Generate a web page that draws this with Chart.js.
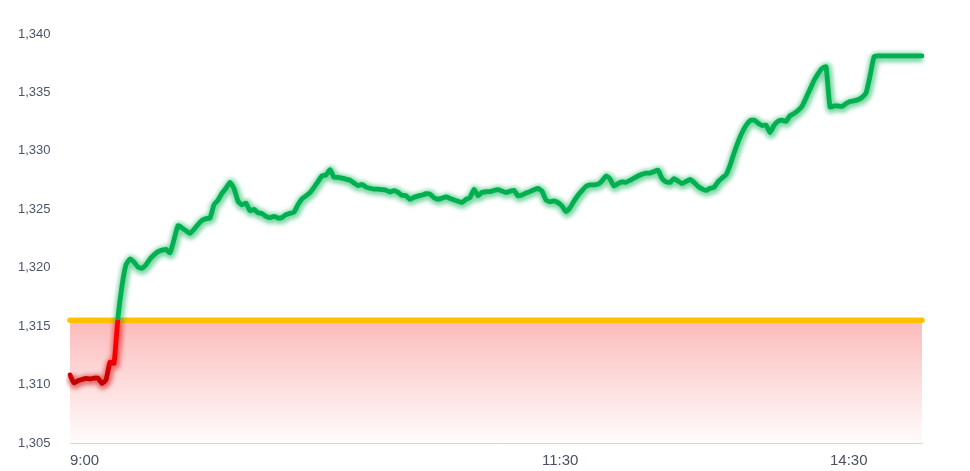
<!DOCTYPE html>
<html>
<head>
<meta charset="utf-8">
<script src="https://cdn.jsdelivr.net/npm/chart.js@4.4.1/dist/chart.umd.min.js"></script>
<style>
  html, body { margin: 0; padding: 0; background: #ffffff; }
  #wrap { width: 970px; height: 471px; }
</style>
</head>
<body>
<div id="wrap"><canvas id="c" width="970" height="471"></canvas></div>
<script>
// ---- data ----
const prices = [
  1310.82, 1310.15, 1310.32, 1310.43, 1310.53, 1310.48, 1310.55, 1310.55, 1310.10, 1310.40,
  1311.92, 1311.82, 1315.75, 1318.45, 1320.25, 1320.75, 1320.48, 1320.05, 1319.95, 1320.25,
  1320.75, 1321.10, 1321.38, 1321.50, 1321.57, 1321.28, 1322.40, 1323.60, 1323.40, 1323.17,
  1322.94, 1323.28, 1323.70, 1324.05, 1324.20, 1324.25, 1325.40, 1325.78, 1326.38, 1326.80,
  1327.30, 1326.78, 1325.70, 1325.38, 1325.53, 1324.88, 1325.00, 1324.70, 1324.63, 1324.40,
  1324.28, 1324.40, 1324.25, 1324.30, 1324.54, 1324.65, 1324.75, 1325.40, 1325.90, 1326.15,
  1326.42, 1326.88, 1327.37, 1327.86, 1327.93, 1328.40, 1327.74, 1327.74, 1327.67, 1327.58,
  1327.49, 1327.24, 1327.03, 1327.12, 1326.90, 1326.80, 1326.73, 1326.72, 1326.68, 1326.63,
  1326.48, 1326.60, 1326.45, 1326.20, 1326.16, 1325.85, 1326.03, 1326.13, 1326.22, 1326.33,
  1326.30, 1325.99, 1325.86, 1325.95, 1326.06, 1325.93, 1325.80, 1325.69, 1325.58, 1325.85,
  1326.00, 1326.71, 1326.15, 1326.44, 1326.50, 1326.51, 1326.61, 1326.68, 1326.56, 1326.44,
  1326.54, 1326.62, 1326.15, 1326.23, 1326.40, 1326.51, 1326.67, 1326.78, 1326.55, 1325.80,
  1325.66, 1325.71, 1325.57, 1325.28, 1324.80, 1325.13, 1325.70, 1326.20, 1326.60, 1326.96,
  1327.08, 1327.09, 1327.15, 1327.42, 1327.85, 1327.60, 1326.99, 1327.20, 1327.35, 1327.30,
  1327.48, 1327.66, 1327.85, 1328.00, 1328.10, 1328.10, 1328.22, 1328.35, 1327.65, 1327.35,
  1327.30, 1327.63, 1327.42, 1327.20, 1327.38, 1327.55, 1327.30, 1326.96, 1326.75, 1326.62,
  1326.79, 1326.88, 1327.35, 1327.68, 1327.95, 1328.75, 1329.80, 1330.75, 1331.55, 1332.17,
  1332.58, 1332.63, 1332.38, 1332.17, 1332.21, 1331.57, 1332.18, 1332.53, 1332.62, 1332.52,
  1333.01, 1333.19, 1333.46, 1333.82, 1334.53, 1335.27, 1336.02, 1336.59, 1337.05, 1337.20,
  1333.75, 1333.84, 1333.84, 1333.80, 1334.05, 1334.22, 1334.28, 1334.37, 1334.57, 1334.95,
  1336.40, 1338.05, 1338.12, 1338.12, 1338.12, 1338.12, 1338.12, 1338.12, 1338.12, 1338.12,
  1338.12, 1338.12, 1338.12, 1338.12
];
const prevClose = 1315.5;
const timeLabels = ['9:00', '11:30', '14:30'];
const timeLabelAt = [0, 118, 190];       // data-point index where each time label falls
const yMin = 1305, yMax = 1340, yStep = 5;

const categories = prices.map((_, i) => {
  const k = timeLabelAt.indexOf(i);
  return k >= 0 ? timeLabels[k] : '';
});
const baseline = prices.map(() => prevClose);

// ---- styling helpers ----
function splitGradient(context, alpha) {
  const chart = context.chart;
  const area = chart.chartArea;
  if (!area) return 'rgba(0,176,80,' + alpha + ')';
  const y = chart.scales.y;
  const g = chart.ctx.createLinearGradient(0, area.top, 0, area.bottom);
  const h = area.bottom - area.top;
  const f = v => Math.min(1, Math.max(0, (y.getPixelForValue(v) - area.top) / h));
  const fb = f(prevClose);
  g.addColorStop(0, 'rgba(0,176,80,' + alpha + ')');
  g.addColorStop(fb, 'rgba(0,176,80,' + alpha + ')');
  g.addColorStop(Math.min(1, fb + 0.0005), 'rgba(255,0,0,' + alpha + ')');
  g.addColorStop(f(prevClose - 3.2), 'rgba(245,0,0,' + alpha + ')');
  g.addColorStop(f(prevClose - 4.6), 'rgba(200,0,0,' + alpha + ')');
  g.addColorStop(1, 'rgba(185,0,0,' + alpha + ')');
  return g;
}
function fillGradient(context) {
  const chart = context.chart;
  const area = chart.chartArea;
  if (!area) return 'rgba(251,187,187,1)';
  const y = chart.scales.y;
  const g = chart.ctx.createLinearGradient(0, y.getPixelForValue(prevClose), 0, area.bottom);
  g.addColorStop(0, 'rgba(251,186,186,1)');
  g.addColorStop(0.5, 'rgba(253,220,220,1)');
  g.addColorStop(1, 'rgba(255,252,252,1)');
  return g;
}

const glowPlugin = {
  id: 'glow',
  beforeDatasetDraw(chart, args) {
    if (chart.data.datasets[args.index].isGlow) {
      chart.ctx.save();
      chart.ctx.filter = 'blur(2px)';
      chart.ctx.translate(0.8, 1.2);
    }
  },
  afterDatasetDraw(chart, args) {
    if (chart.data.datasets[args.index].isGlow) chart.ctx.restore();
  }
};

new Chart(document.getElementById('c'), {
  type: 'line',
  data: {
    labels: categories,
    datasets: [
      {
        data: prices,
        borderColor: ctx => splitGradient(ctx, 1),
        borderWidth: 4.8,
        pointRadius: 0,
        tension: 0.15,
        borderJoinStyle: 'round',
        borderCapStyle: 'round',
        fill: false,
        order: 0
      },
      {
        isGlow: true,
        data: prices,
        borderColor: ctx => splitGradient(ctx, 0.5),
        borderWidth: 10,
        pointRadius: 0,
        tension: 0.15,
        borderJoinStyle: 'round',
        fill: false,
        order: 1
      },
      {
        data: baseline,
        borderColor: '#ffc000',
        borderWidth: 5.5,
        borderCapStyle: 'round',
        pointRadius: 0,
        fill: 'start',
        backgroundColor: fillGradient,
        clip: false,
        order: 2
      }
    ]
  },
  options: {
    responsive: false,
    animation: false,
    events: [],
    layout: { padding: { left: 18, right: 48, top: 34, bottom: 0 } },
    plugins: { legend: { display: false }, tooltip: { enabled: false } },
    scales: {
      x: {
        type: 'category',
        offset: false,
        grid: { display: false, drawTicks: false },
        border: { display: true, color: '#d9d9d9', width: 1 },
        ticks: {
          autoSkip: false,
          maxRotation: 0,
          minRotation: 0,
          align: 'start',
          padding: 9,
          color: '#4a5160',
          font: { family: "'Liberation Sans', Arial, sans-serif", size: 15 },
          callback: (v, i) => categories[i]
        },
        afterFit: s => { s.height = 28; }
      },
      y: {
        min: yMin,
        max: yMax,
        grid: { display: false, drawTicks: false },
        border: { display: false },
        ticks: {
          stepSize: yStep,
          crossAlign: 'far',
          color: '#4a5568',
          font: { family: "'Liberation Sans', Arial, sans-serif", size: 13 },
          callback: v => v.toLocaleString('en-US')
        },
        afterFit: s => { s.width = 52; }
      }
    }
  },
  plugins: [glowPlugin]
});
</script>
</body>
</html>
